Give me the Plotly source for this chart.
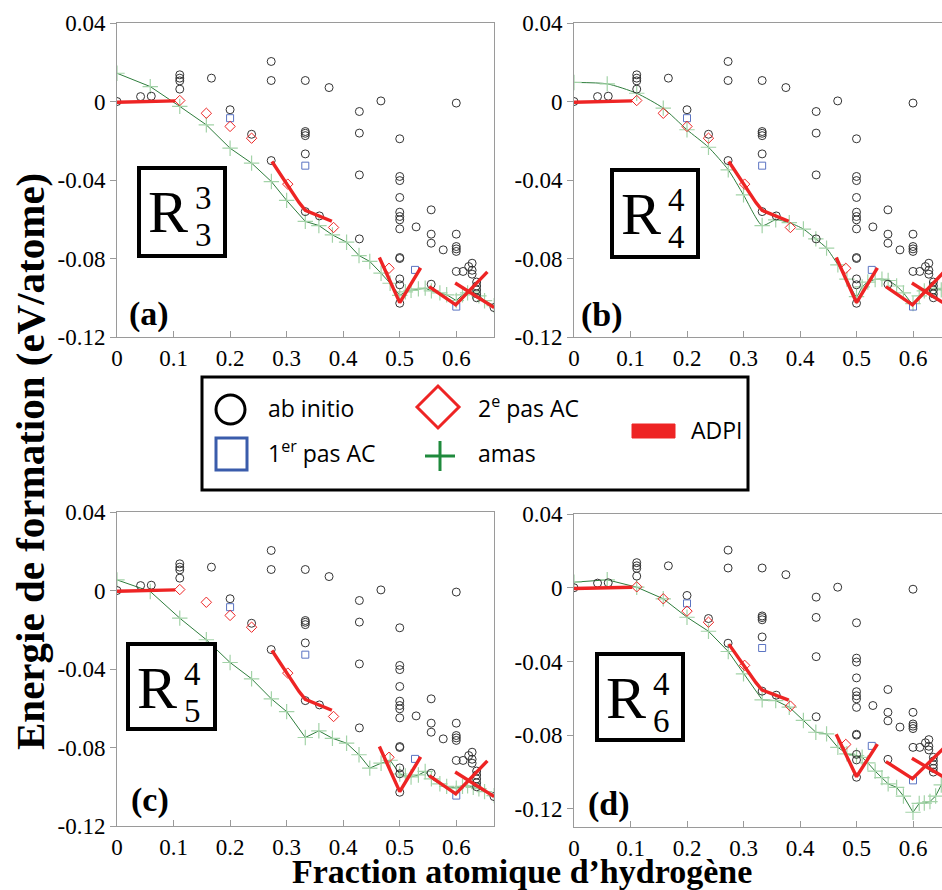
import plotly.graph_objects as go

W, H = 942, 890

# ---------------- data ----------------
abinit_x = [0, 0.0417, 0.0606, 0.111, 0.111, 0.111, 0.111, 0.167, 0.2, 0.238,
            0.2727, 0.2727, 0.2727, 0.333, 0.333, 0.333, 0.333, 0.333, 0.333,
            0.358, 0.375, 0.4286, 0.4286, 0.4286, 0.4286, 0.4667,
            0.5, 0.5, 0.5, 0.5, 0.5, 0.5, 0.5, 0.5, 0.5, 0.5, 0.5, 0.5, 0.5,
            0.529, 0.5556, 0.5556, 0.5556, 0.5556, 0.5769,
            0.6, 0.6, 0.6, 0.6, 0.6, 0.6, 0.612, 0.622, 0.628, 0.628, 0.628,
            0.636, 0.636, 0.636, 0.636, 0.636, 0.6667]
abinit_y = [0, 0.0025, 0.0027, 0.0136, 0.0119, 0.0105, 0.0063, 0.0119, -0.0042, -0.0167,
            0.0204, 0.0107, -0.0301, 0.0107, -0.0153, -0.0162, -0.0174, -0.0267, -0.0561,
            -0.0583, 0.0071, -0.0051, -0.0161, -0.0374, -0.0700, 0.0003,
            -0.019, -0.0382, -0.0403, -0.0489, -0.0564, -0.0586, -0.0603, -0.0649,
            -0.0795, -0.0800, -0.0904, -0.0934, -0.1028,
            -0.0639, -0.0552, -0.0676, -0.0722, -0.0931, -0.0756,
            -0.0008, -0.0676, -0.0739, -0.0751, -0.0764, -0.0866, -0.0866, -0.0841,
            -0.0824, -0.0860, -0.0880,
            -0.092, -0.094, -0.096, -0.098, -0.100, -0.105]

pas1_x = [0.2, 0.333, 0.527, 0.6]
pas1_y = [-0.0085, -0.0327, -0.0858, -0.1045]

pas2_x = [0.111, 0.158, 0.2, 0.238, 0.302, 0.383, 0.481]
pas2_y = [0.0005, -0.006, -0.0127, -0.0187, -0.0421, -0.0642, -0.085]

adpi_segments = [
    ([0, 0.103], [-0.0004, 0.0003]),
    ([0.274, 0.30, 0.322, 0.333, 0.355, 0.38], [-0.0306, -0.042, -0.0515, -0.0555, -0.058, -0.061]),
    ([0.464, 0.5, 0.537], [-0.0795, -0.1025, -0.0848]),
    ([0.552, 0.599, 0.655], [-0.0943, -0.1036, -0.0868]),
    ([0.598, 0.667], [-0.0925, -0.105]),
]

amas_x = [0, 0.0588, 0.111, 0.158, 0.2, 0.238, 0.273, 0.30, 0.333, 0.357, 0.381, 0.406,
          0.428, 0.447, 0.467, 0.483, 0.5, 0.51, 0.52, 0.533, 0.545, 0.556, 0.571, 0.583,
          0.6, 0.611, 0.62, 0.63, 0.64, 0.65, 0.667]
amas_a_y = [0.0144, 0.0076, -0.0025, -0.0119, -0.0238, -0.0314, -0.0408, -0.0504, -0.0611,
            -0.0632, -0.068, -0.0717, -0.0785, -0.0815, -0.0875, -0.0926, -0.0988, -0.097,
            -0.0962, -0.0955, -0.0951, -0.0965, -0.0975, -0.0985, -0.1014, -0.0985, -0.0975,
            -0.097, -0.099, -0.1015, -0.104]
amas_b_y = [0.0097, 0.009, 0.0042, -0.0034, -0.0144, -0.0233, -0.0348, -0.0476, -0.0632,
            -0.0603, -0.0617, -0.065, -0.070, -0.0747, -0.0832, -0.0905, -0.0994, -0.0945,
            -0.092, -0.0907, -0.0905, -0.0912, -0.094, -0.0975, -0.103, -0.099, -0.0965,
            -0.0955, -0.0952, -0.096, -0.098]
amas_c_y = [0.0054, -0.0005, -0.0141, -0.0251, -0.0367, -0.045, -0.0552, -0.0617, -0.0749,
            -0.0715, -0.0753, -0.0778, -0.0837, -0.0905, -0.088, -0.0865, -0.0935, -0.0945,
            -0.095, -0.094, -0.0922, -0.096, -0.0985, -0.0998, -0.1007, -0.0998, -0.0995,
            -0.1003, -0.101, -0.1025, -0.1045]
amas_d_y = [0.003, 0.0043, 0.0003, -0.006, -0.016, -0.0236, -0.0346, -0.0467, -0.0608,
            -0.0612, -0.0648, -0.072, -0.0784, -0.0793, -0.0866, -0.0901, -0.091, -0.092,
            -0.095, -0.0995, -0.103, -0.1064, -0.1083, -0.113, -0.1218, -0.117, -0.1168,
            -0.116, -0.113, -0.107, -0.103]

x_ticks = [0, 0.1, 0.2, 0.3, 0.4, 0.5, 0.6]
x_tick_labels = ["0", "0.1", "0.2", "0.3", "0.4", "0.5", "0.6"]
y_ticks = [-0.12, -0.08, -0.04, 0, 0.04]
y_tick_labels = ["-0.12", "-0.08", "-0.04", "0", "0.04"]

panels = [
    # name, amas, R sup, R sub, label, line shape
    ("a", amas_a_y, "3", "3", "(a)", "linear"),
    ("b", amas_b_y, "4", "4", "(b)", "spline"),
    ("c", amas_c_y, "4", "5", "(c)", "linear"),
    ("d", amas_d_y, "4", "6", "(d)", "linear"),
]

# ---------------- layout geometry (pixels) ----------------
def px(x):
    return x / W

def py(y):
    return 1 - y / H

panel_geom = {
    "a": dict(x0=117, x1=494, y0=23, y1=337, xr=[0, 0.6667], yr=[-0.12, 0.04], mirror_y=True),
    "b": dict(x0=574, x1=942, y0=23, y1=337, xr=[0, 0.6513], yr=[-0.12, 0.04], mirror_y=False),
    "c": dict(x0=117, x1=494, y0=512, y1=826, xr=[0, 0.6667], yr=[-0.12, 0.04], mirror_y=True),
    "d": dict(x0=574, x1=942, y0=514, y1=827, xr=[0, 0.6513], yr=[-0.1298, 0.04], mirror_y=False),
}
rbox = {"a": (139, 168, 225, 256), "b": (612, 170, 698, 257),
        "c": (128, 644, 215, 729), "d": (597, 654, 683, 740)}
labpos = {"a": (149, 314), "b": (602, 315), "c": (150, 800), "d": (609, 804)}

SERIF = "Liberation Serif"
GRAY = "#9a9a9a"
RED = "#ee2424"

fig = go.Figure()
layout = dict(
    width=W, height=H, margin=dict(l=0, r=0, t=0, b=0, pad=0, autoexpand=False),
    paper_bgcolor="white", plot_bgcolor="white", showlegend=False,
)
annotations = []
shapes = []

for i, (name, amas_y, sup, sub, lab, shape) in enumerate(panels):
    idx = "" if i == 0 else str(i + 1)
    xa, ya = "x" + idx, "y" + idx
    g = panel_geom[name]
    layout["xaxis" + idx] = dict(
        domain=[px(g["x0"]), px(g["x1"])], range=g["xr"], anchor=ya, automargin=False,
        tickvals=x_ticks, ticktext=x_tick_labels, ticks="inside", ticklen=6,
        tickcolor=GRAY, showline=True, linecolor=GRAY, linewidth=1, mirror=True,
        showgrid=False, zeroline=False,
        tickfont=dict(family=SERIF, size=23, color="black"),
    )
    layout["yaxis" + idx] = dict(
        domain=[py(g["y1"]), py(g["y0"])], range=g["yr"], anchor=xa, automargin=False,
        tickvals=y_ticks, ticktext=y_tick_labels, ticks="outside", ticklen=6,
        tickcolor=GRAY, showline=True, linecolor=GRAY, linewidth=1,
        mirror=g["mirror_y"], showgrid=False, zeroline=False,
        tickfont=dict(family=SERIF, size=23, color="black"),
    )
    # amas
    fig.add_trace(go.Scatter(
        x=amas_x, y=amas_y, xaxis=xa, yaxis=ya, mode="lines+markers",
        line=dict(color="#2e7d3c", width=1, shape=shape, smoothing=0.6),
        marker=dict(symbol="cross-thin", size=11, line=dict(color="#a3d3a8", width=1.2)),
    ))
    # ab initio
    fig.add_trace(go.Scatter(
        x=abinit_x, y=abinit_y, xaxis=xa, yaxis=ya, mode="markers",
        marker=dict(symbol="circle-open", size=8, color="#333333", line=dict(width=1)),
    ))
    fig.add_trace(go.Scatter(
        x=pas1_x, y=pas1_y, xaxis=xa, yaxis=ya, mode="markers",
        marker=dict(symbol="square-open", size=7, color="#5b74c2", line=dict(width=1)),
    ))
    fig.add_trace(go.Scatter(
        x=pas2_x, y=pas2_y, xaxis=xa, yaxis=ya, mode="markers",
        marker=dict(symbol="diamond-open", size=8, color=RED, line=dict(width=1)),
    ))
    ax, ay = [], []
    for sx, sy in adpi_segments:
        ax += list(sx) + [None]
        ay += list(sy) + [None]
    fig.add_trace(go.Scatter(
        x=ax, y=ay, xaxis=xa, yaxis=ya, mode="lines",
        line=dict(color=RED, width=3.4),
    ))
    # R box
    bx0, by0, bx1, by1 = rbox[name]
    shapes.append(dict(type="rect", xref="paper", yref="paper",
                       x0=px(bx0), x1=px(bx1), y0=py(by1), y1=py(by0),
                       line=dict(color="black", width=4), fillcolor="white", layer="above"))
    annotations.append(dict(text="R", x=px(bx0 + 29), y=py(by0 + 44), xref="paper", yref="paper",
                            showarrow=False, xanchor="center", yanchor="middle",
                            font=dict(family=SERIF, size=60, color="black")))
    annotations.append(dict(text=sup, x=px(bx0 + 64), y=py(by0 + 30), xref="paper", yref="paper",
                            showarrow=False, xanchor="center", yanchor="middle",
                            font=dict(family=SERIF, size=33, color="black")))
    annotations.append(dict(text=sub, x=px(bx0 + 64), y=py(by0 + 67), xref="paper", yref="paper",
                            showarrow=False, xanchor="center", yanchor="middle",
                            font=dict(family=SERIF, size=33, color="black")))
    lx, ly = labpos[name]
    annotations.append(dict(text="<b>" + lab + "</b>", x=px(lx), y=py(ly), xref="paper", yref="paper",
                            showarrow=False, xanchor="center", yanchor="middle",
                            font=dict(family=SERIF, size=34, color="black")))

# axis titles
annotations.append(dict(text="<b>Energie de formation (eV/atome)</b>", x=px(30), y=py(462),
                        xref="paper", yref="paper", showarrow=False, textangle=-90,
                        xanchor="center", yanchor="middle",
                        font=dict(family=SERIF, size=41, color="black")))
annotations.append(dict(text="<b>Fraction atomique d\u2019hydrog\u00e8ne</b>", x=px(522), y=py(871),
                        xref="paper", yref="paper", showarrow=False,
                        xanchor="center", yanchor="middle",
                        font=dict(family=SERIF, size=34, color="black")))

# legend box (drawn manually)
SANS = "Open Sans"
shapes.append(dict(type="rect", xref="paper", yref="paper", x0=px(202), x1=px(748),
                   y0=py(490), y1=py(377), line=dict(color="black", width=3), fillcolor="white"))
shapes.append(dict(type="circle", xref="paper", yref="paper", x0=px(216), x1=px(245),
                   y0=py(424), y1=py(395), line=dict(color="black", width=3)))
shapes.append(dict(type="rect", xref="paper", yref="paper", x0=px(216), x1=px(247),
                   y0=py(470), y1=py(438), line=dict(color="#3a5cab", width=3)))
cx, cy, r = 438, 407, 21
shapes.append(dict(type="path", xref="paper", yref="paper",
                   path=f"M {px(cx - r)} {py(cy)} L {px(cx)} {py(cy - r)} L {px(cx + r)} {py(cy)} L {px(cx)} {py(cy + r)} Z",
                   line=dict(color=RED, width=3)))
cx, cy, r = 440, 456, 15
shapes.append(dict(type="line", xref="paper", yref="paper", x0=px(cx - r), x1=px(cx + r),
                   y0=py(cy), y1=py(cy), line=dict(color="#1f8a3c", width=3)))
shapes.append(dict(type="line", xref="paper", yref="paper", x0=px(cx), x1=px(cx),
                   y0=py(cy - r), y1=py(cy + r), line=dict(color="#1f8a3c", width=3)))
shapes.append(dict(type="rect", xref="paper", yref="paper", x0=px(632), x1=px(675),
                   y0=py(438), y1=py(424), line=dict(color=RED, width=1), fillcolor=RED))

for txt, x, y in [("ab initio", 266, 408), ("1<sup>er</sup> pas AC", 266, 452),
                  ("2<sup>e</sup> pas AC", 476, 407), ("amas", 476, 453), ("ADPI", 689, 430)]:
    annotations.append(dict(text=txt, x=px(x), y=py(y), xref="paper", yref="paper",
                            showarrow=False, xanchor="left", yanchor="middle",
                            font=dict(family=SANS, size=23, color="black")))

layout["annotations"] = annotations
layout["shapes"] = shapes
fig.update_layout(**layout)
fig.write_html("out.html", config={"displayModeBar": False},
               post_script="document.body.style.margin='0';document.body.style.overflow='hidden';")
